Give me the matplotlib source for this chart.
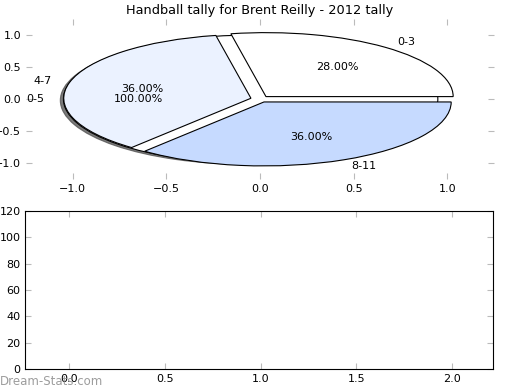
import matplotlib
matplotlib.use('Agg')
import matplotlib.pyplot as plt

# data
labels = ['0-3', '4-7', '8-11']
counts = [7, 9, 9]
colors = ['#ffffff', '#ebf2ff', '#c6daff']
total_labels = ['0-5']
total_counts = [1]

bar_yticks = [0, 20, 40, 60, 80, 100, 120]
bar_xticks = [0.0, 0.5, 1.0, 1.5, 2.0]
pie_ticks = [-1.0, -0.5, 0.0, 0.5, 1.0]

fig = plt.figure(figsize=(5.2, 3.9), dpi=100)

# pie part
ax = fig.add_axes([0.05, 0.541, 0.9, 0.41])
ax.pie(total_counts, labels=total_labels, colors=['white'], autopct='%.2f%%',
       explode=[0.05],
       shadow={'ox': -0.012, 'oy': -0.015, 'shade': 0.7, 'alpha': 0.75},
       wedgeprops={'edgecolor': 'black', 'linewidth': 0.8},
       textprops={'fontsize': 8})
ax.pie(counts, labels=labels, colors=colors, autopct='%.2f%%',
       explode=[0.05, 0.05, 0.05],
       wedgeprops={'edgecolor': 'black', 'linewidth': 0.8},
       textprops={'fontsize': 8})
ax.set_aspect('auto')
ax.set_frame_on(False)
ax.set_xlim(-1.25, 1.25)
ax.set_ylim(-1.25, 1.25)
ax.set_xticks(pie_ticks)
ax.set_yticks(pie_ticks)
ax.tick_params(direction='in', top=True, right=True, color='#bbbbbb',
               length=4, labelsize=8)
ax.set_title('Handball tally for Brent Reilly - 2012 tally', fontsize=9.3, pad=4)

# empty bar axes
ax2 = fig.add_axes([0.049, 0.053, 0.899, 0.407])
ax2.set_xlim(-0.228, 2.214)
ax2.set_ylim(0, 120)
ax2.set_xticks(bar_xticks)
ax2.set_yticks(bar_yticks)
ax2.tick_params(direction='in', top=True, right=True, color='#bbbbbb',
                length=4, labelsize=8)

fig.text(0.0, 0.012, 'Dream-Stats.com', color='#8c8c8c', alpha=0.85, fontsize=8.5)

fig.savefig('out.png', dpi=100)
